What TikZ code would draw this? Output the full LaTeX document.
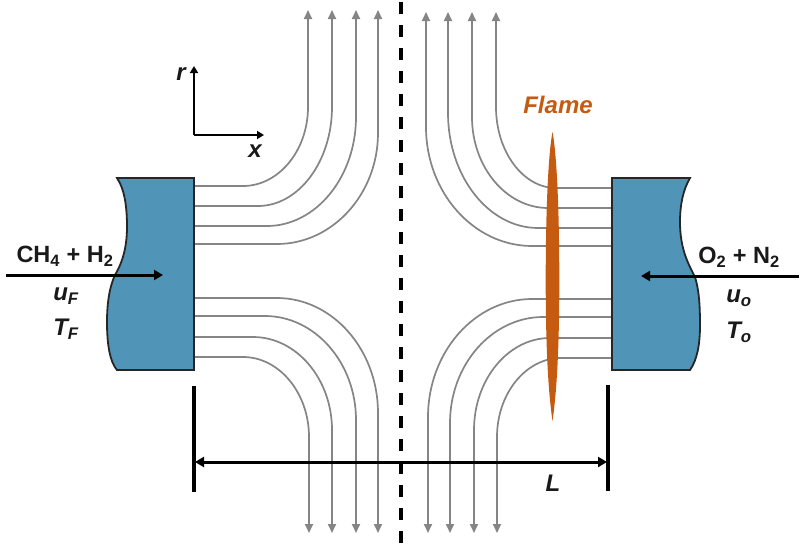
\documentclass[tikz,border=0pt]{standalone}
\usepackage{fontspec}
\setmainfont{Liberation Sans}
\usetikzlibrary{arrows.meta}
\definecolor{blockblue}{HTML}{5094B8}
\definecolor{flameorange}{HTML}{C55A11}
\definecolor{flowgray}{HTML}{858585}
\tikzset{
  flow/.style={draw=flowgray,line width=1.7pt,-{Triangle[length=9pt,width=8pt,fill=flowgray]}},
  block/.style={draw=black!85,line width=1.8pt,fill=blockblue},
  axis/.style={draw=black,line width=2.3pt,-{Triangle[length=7pt,width=8pt]}},
  feed/.style={draw=black,line width=3pt,-{Triangle[length=9pt,width=10pt]}},
  dim/.style={draw=black,line width=3pt,{Triangle[length=9pt,width=10pt]}-{Triangle[length=9pt,width=10pt]}},
  tick/.style={draw=black,line width=3.2pt},
  label/.style={font=\fontsize{23.5}{26}\selectfont\bfseries,inner sep=0pt,text=black!90},
  ilabel/.style={label,font=\fontsize{24}{26}\selectfont\bfseries\itshape}
}
\newcommand{\flowline}[6]{%
  \pgfmathsetmacro{\cxa}{#3+0.55*(#4-#3)}%
  \pgfmathsetmacro{\cyb}{#5+0.55*(#2-#5)}%
  \draw[flow] (#1,#2) -- (#3,#2) .. controls (\cxa,#2) and (#4,\cyb) .. (#4,#5) -- (#4,#6);%
}
\begin{document}
\begin{tikzpicture}[x=1pt,y=-1pt]
\path[use as bounding box,fill=white] (0,0) rectangle (800,549);
% centre line
\coordinate (ctop) at (401,2);
\coordinate (cbot) at (401,543);
\draw[black,line width=3.2pt,dash pattern=on 12pt off 11pt] (ctop) -- (cbot);
% streamlines
\flowline{194}{186}{243}{308}{107}{10}
\flowline{194}{206}{258}{332}{107}{10}
\flowline{194}{226}{267}{356}{117}{10}
\flowline{194}{244}{277}{378}{133}{10}
\flowline{194}{357}{243}{309}{437}{533}
\flowline{194}{337}{253}{332}{430}{533}
\flowline{194}{316}{265}{356}{420}{533}
\flowline{194}{298}{277}{378}{413}{533}
\flowline{612}{188}{556}{496}{107}{12}
\flowline{612}{208}{548}{472}{117}{12}
\flowline{612}{228}{538}{448}{113}{12}
\flowline{612}{246}{532}{426}{127}{12}
\flowline{612}{358}{561}{497}{437}{533}
\flowline{612}{338}{550}{474}{430}{533}
\flowline{612}{317}{543}{450}{423}{533}
\flowline{612}{299}{532}{428}{417}{533}
% blocks
\path[block] (194,178) -- (117,178) .. controls (125,190) and (127,208) .. (127,227)
  .. controls (127,250) and (121,265) .. (115,275)
  .. controls (109,288) and (107,305) .. (107,322)
  .. controls (107,345) and (110,362) .. (117,370) -- (194,370) -- cycle;
\path[block] (612,178) -- (690,178) .. controls (683,190) and (680,205) .. (680,222)
  .. controls (680,250) and (689,265) .. (695,277)
  .. controls (699,290) and (700,305) .. (700,325)
  .. controls (700,345) and (697,360) .. (690,370) -- (612,370) -- cycle;
% flame
\fill[flameorange] (552.5,132) .. controls (557,155) and (559.3,215) .. (559.3,280)
  .. controls (559.3,345) and (557,390) .. (552.5,421)
  .. controls (548,390) and (545.7,345) .. (545.7,280)
  .. controls (545.7,215) and (548,155) .. (552.5,132) -- cycle;
% axes
\coordinate (org) at (194,135);
\coordinate (rtip) at (194,66);
\coordinate (xtip) at (264,135);
\draw[axis] (org) -- (rtip);
\draw[axis] (org) -- (xtip);
% feed arrows
\coordinate (fs) at (6,275);
\coordinate (fe) at (163,275);
\coordinate (os) at (799,276);
\coordinate (oe) at (641,276);
\draw[feed] (fs) -- (fe);
\draw[feed] (os) -- (oe);
% dimension
\coordinate (lt) at (194,386);
\coordinate (lb) at (194,492);
\coordinate (rt) at (608,385);
\coordinate (rb) at (608,491);
\coordinate (dl) at (195,462);
\coordinate (dr) at (607,462);
\draw[tick] (lt) -- (lb);
\draw[tick] (rt) -- (rb);
\draw[dim] (dl) -- (dr);
% labels
\node[ilabel] (lr) at (181,74) {r};
\node[ilabel] (lx) at (255,151) {x};
\node[ilabel] (lL) at (553,483) {L};
\node[ilabel,text=flameorange] (lflame) at (558,105) {Flame};
\node[label] (lfuel) at (65,256) {CH\textsubscript{4} + H\textsubscript{2}};
\node[ilabel] (luf) at (66,296) {u\textsubscript{F}};
\node[ilabel] (ltf) at (66,329) {T\textsubscript{F}};
\node[label] (lox) at (739,257) {O\textsubscript{2} + N\textsubscript{2}};
\node[ilabel] (luo) at (739,298) {u\textsubscript{o}};
\node[ilabel] (lto) at (739,332) {T\textsubscript{o}};
\end{tikzpicture}
\end{document}
